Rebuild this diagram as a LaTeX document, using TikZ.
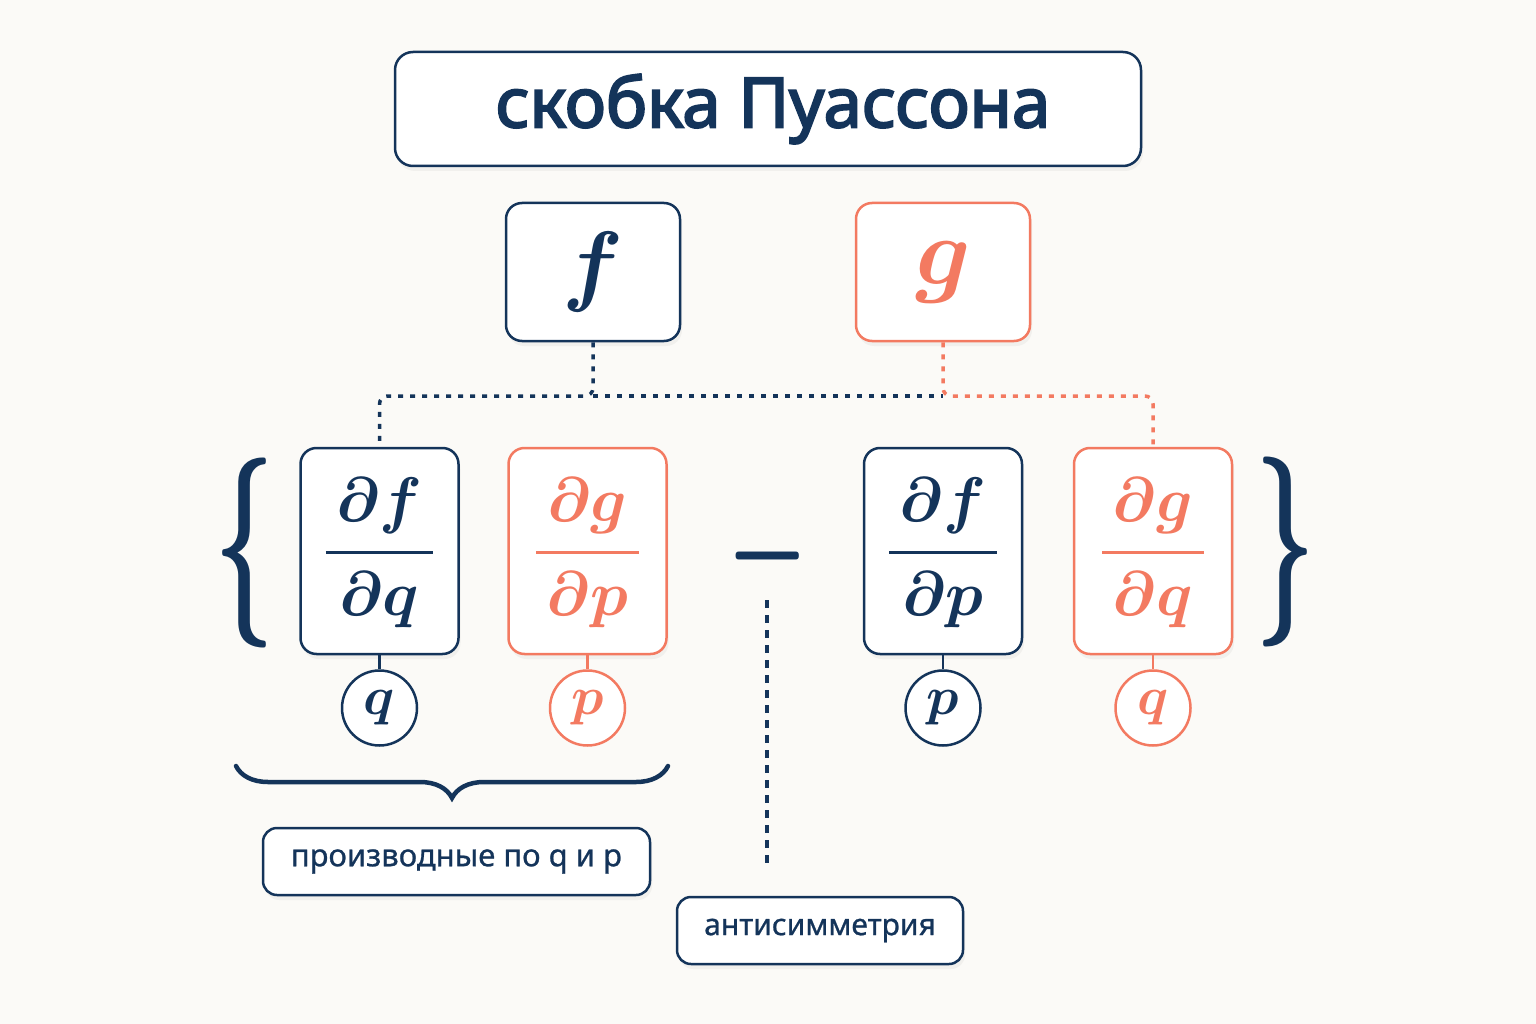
\RequirePackage{fix-cm}
\documentclass[tikz,border=0pt]{standalone}
\usepackage{amsmath}
\usepackage{fontspec}
\setmainfont{Noto Sans}
\newfontfamily\titlefont{Noto Sans}[FakeBold=3]
\newfontfamily\labelfont{Noto Sans}[FakeBold=0.8]
\usepackage{graphicx}
\usetikzlibrary{positioning,shadows,decorations.pathreplacing}
\definecolor{navy}{RGB}{20,52,90}
\definecolor{coral}{RGB}{243,122,97}
\definecolor{paper}{RGB}{251,250,247}
\tikzset{
  box/.style={draw=navy, line width=2.5pt, rounded corners=16pt, fill=white, text=navy,
    drop shadow={opacity=0.08, shadow xshift=2pt, shadow yshift=-5pt}},
  cbox/.style={box, draw=coral, text=coral},
  fracbox/.style={minimum width=158pt, minimum height=206pt, inner sep=0pt},
  circ/.style={circle, draw=navy, line width=2.5pt, fill=white, text=navy, minimum size=75pt, inner sep=0pt},
  ccirc/.style={circ, draw=coral, text=coral},
  navydot/.style={navy, line width=3.5pt, dash pattern=on 5pt off 7pt},
  coraldot/.style={navydot, coral},
  stem/.style={line width=2.5pt},
}
\newcommand\pdfrac[2]{\raisebox{-17pt}[0pt][0pt]{\fontsize{63}{72}\selectfont$\genfrac{}{}{3pt}{0}{\,\boldsymbol{\partial #1}\,\rule[-20pt]{0pt}{20pt}}{\,\rule{0pt}{53pt}\boldsymbol{\partial #2}\,}$}}
\newcommand\circvar[1]{\fontsize{54}{54}\selectfont$\boldsymbol{#1}$}

\begin{document}
\begin{tikzpicture}[x=1pt,y=-1pt]
\fill[paper] (0,0) rectangle (1536,1024);
\useasboundingbox (0,0) rectangle (1536,1024);

\node[box, minimum width=746pt, minimum height=114pt, rounded corners=18pt] (title) at (768,109) {\raisebox{-4pt}{\hspace{10pt}\fontsize{69}{80}\titlefont скобка Пуассона}};

\node[box, minimum width=174pt, minimum height=138pt] (f) at (593,272) {\fontsize{90}{90}\selectfont$\boldsymbol{f}$};
\node[cbox, minimum width=174pt, minimum height=138pt] (g) at (943,272) {\fontsize{96}{96}\selectfont$\boldsymbol{g}$};

\node[box, fracbox] (dfdq) at (379.5,551) {\pdfrac{f}{q}};
\node[cbox, fracbox] (dgdp) at (587.5,551) {\pdfrac{g}{p}};
\node[box, fracbox] (dfdp) at (943,551) {\pdfrac{f}{p}};
\node[cbox, fracbox] (dgdq) at (1153,551) {\pdfrac{g}{q}};

\node[circ, below=14pt of dfdq] (q1) {\circvar{q}};
\node[ccirc, below=14pt of dgdp] (p1) {\circvar{p}};
\node[circ, below=14pt of dfdp] (p2) {\circvar{p}};
\node[ccirc, below=14pt of dgdq] (q2) {\circvar{q}};

\node[text=navy] (lbr) at (245,553) {\scalebox{0.55}[1]{\fontsize{190}{190}\selectfont$\boldsymbol{\{}$}};
\node[text=navy] (rbr) at (1286,552) {\scalebox{0.55}[1]{\fontsize{190}{190}\selectfont$\boldsymbol{\}}$}};
\node[text=navy] (minus) at (768,556) {\scalebox{1.15}[2.2]{\fontsize{90}{90}\selectfont$-$}};

\node[box, minimum width=387pt, minimum height=67pt, rounded corners=14pt] (lblqp) at (456.5,861.5) {\fontsize{31}{36}\labelfont производные по q и p};
\node[box, minimum width=286pt, minimum height=67pt, rounded corners=14pt] (lblanti) at (820,930.5) {\fontsize{30}{36}\labelfont антисимметрия};

% connectors
\coordinate (fj) at (593,396);
\coordinate (gj) at (943,396);
\coordinate (antitop) at (767,600);
\coordinate (antiend) at (767,865);
\draw[navydot, rounded corners=8pt] (f.south) -- (fj) -| (dfdq.north);
\draw[navydot] (fj) -- (gj);
\draw[coraldot, rounded corners=8pt] (g.south) -- (gj) -| (dgdq.north);
\draw[navydot, dash pattern=on 8pt off 7pt] (antitop) -- (antiend);

\draw[navy, stem] (dfdq) -- (q1);
\draw[coral, stem] (dgdp) -- (p1);
\draw[navy, stem] (dfdp) -- (p2);
\draw[coral, stem] (dgdq) -- (q2);

% underbrace
\coordinate (ubl) at (236,766);
\coordinate (ubr) at (668,766);
\draw[navy, line width=4.5pt, line cap=round, decorate, decoration={brace, amplitude=32pt, mirror}] (ubl) -- (ubr);
\end{tikzpicture}
\end{document}
